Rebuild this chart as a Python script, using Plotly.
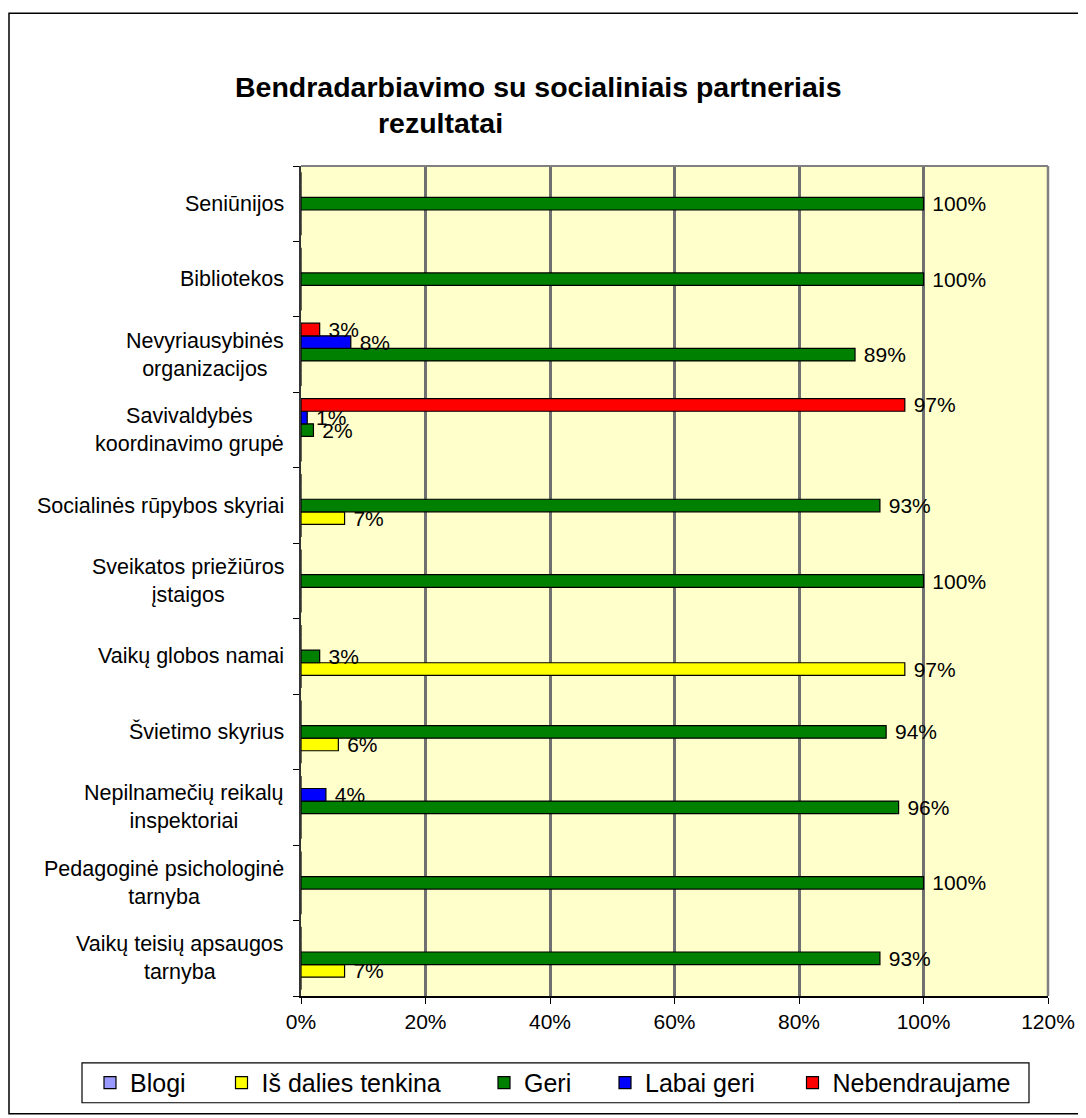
import plotly.graph_objects as go

# Categories (bottom to top)
categories = [
    "Vaikų teisių apsaugos<br>tarnyba",
    "Pedagoginė psichologinė<br>tarnyba",
    "Nepilnamečių reikalų<br>inspektoriai",
    "Švietimo skyrius",
    "Vaikų globos namai",
    "Sveikatos priežiūros<br>įstaigos",
    "Socialinės rūpybos skyriai",
    "Savivaldybės<br>koordinavimo grupė",
    "Nevyriausybinės<br>organizacijos",
    "Bibliotekos",
    "Seniūnijos",
]

series_names = ["Blogi", "Iš dalies tenkina", "Geri", "Labai geri", "Nebendraujame"]
blogi = [0, 0, 0, 0, 0, 0, 0, 0, 0, 0, 0]
is_dalies = [7, 0, 0, 6, 97, 0, 7, 0, 0, 0, 0]
geri = [93, 100, 96, 94, 3, 100, 93, 2, 89, 100, 100]
labai_geri = [0, 0, 4, 0, 0, 0, 0, 1, 8, 0, 0]
nebendraujame = [0, 0, 0, 0, 0, 0, 0, 97, 3, 0, 0]
series_values = [blogi, is_dalies, geri, labai_geri, nebendraujame]
colors = ["#9999FF", "#FFFF00", "#008000", "#0000FF", "#FF0000"]

x_ticks = [0, 20, 40, 60, 80, 100, 120]

FONT = "Liberation Sans, Arial, sans-serif"

# page offset of the plot div (body margin)
OFF = 8
W, H = 1078, 1110
L, R, T, B = 293, 38, 158, 120
pw, ph = W - L - R, H - T - B

def fx(page_x):
    return (page_x - OFF - L) / pw

def fy(page_y):
    return (H - B - (page_y - OFF)) / ph

# legend marker centres in page pixels (layout only)
legend_centres = [110, 241.5, 504, 625, 812.5]
legend_names = ["legend", "legend2", "legend3", "legend4", "legend5"]

fig = go.Figure()
for name, vals, col, lg in zip(series_names, series_values, colors, legend_names):
    fig.add_trace(go.Bar(
        y=categories, x=vals, name=name, orientation="h",
        marker=dict(color=col, line=dict(color="black", width=1.2)),
        text=[f" {v}%" if v > 0 else "" for v in vals],
        textposition="outside", constraintext="none", cliponaxis=False,
        textfont=dict(family=FONT, size=21, color="black"),
        hoverinfo="x+name", legend=lg,
    ))

annotations = []
for c in categories:
    annotations.append(dict(
        text=c, xref="paper", yref="y", x=0, y=c, xshift=-15,
        xanchor="right", yanchor="middle", align="center", showarrow=False,
        font=dict(family=FONT, size=21.5, color="black"),
    ))
annotations.append(dict(
    text="<b>Bendradarbiavimo su socialiniais partneriais</b>",
    xref="paper", yref="paper", x=fx(538), y=fy(87), xanchor="center", yanchor="middle",
    showarrow=False, font=dict(family=FONT, size=28.5, color="black"),
))
annotations.append(dict(
    text="<b>rezultatai</b>",
    xref="paper", yref="paper", x=fx(440), y=fy(123), xanchor="center", yanchor="middle",
    showarrow=False, font=dict(family=FONT, size=28.5, color="black"),
))

shapes = [
    dict(type="rect", xref="paper", yref="paper", x0=fx(9), x1=fx(1084), y0=fy(1116), y1=fy(13),
         line=dict(color="black", width=1.5), fillcolor="rgba(0,0,0,0)", layer="below"),
    dict(type="rect", xref="paper", yref="paper", x0=fx(82), x1=fx(1029), y0=fy(1105), y1=fy(1065),
         line=dict(color="black", width=1.2), fillcolor="white", layer="below"),
    dict(type="line", xref="paper", yref="paper", x0=0, x1=1, y0=1, y1=1,
         line=dict(color="#808080", width=2)),
    dict(type="line", xref="paper", yref="paper", x0=1, x1=1, y0=0, y1=1,
         line=dict(color="#808080", width=2.5)),
]

legends = {}
for lg, cx in zip(legend_names, legend_centres):
    legends[lg] = dict(
        orientation="h", x=fx(cx - 20), y=fy(1085), xanchor="left", yanchor="middle",
        bgcolor="rgba(0,0,0,0)", borderwidth=0,
        font=dict(family=FONT, size=25, color="black"),
    )

fig.update_layout(
    width=W, height=H,
    margin=dict(l=L, r=R, t=T, b=B),
    paper_bgcolor="white", plot_bgcolor="#FFFFCC",
    barmode="group", bargap=0.167, bargroupgap=0,
    font=dict(family=FONT, size=21, color="black"),
    showlegend=True,
    annotations=annotations,
    shapes=shapes,
    xaxis=dict(
        range=[0, 120], tickvals=x_ticks, ticktext=[f"{t}%" for t in x_ticks],
        ticks="outside", ticklen=6, tickcolor="black",
        showline=True, linecolor="black", linewidth=1.5,
        showgrid=True, gridcolor="#707070", gridwidth=2.5, zeroline=False,
        tickfont=dict(family=FONT, size=21, color="black"),
    ),
    yaxis=dict(
        type="category", categoryorder="array", categoryarray=categories,
        showticklabels=False, ticks="outside", tickson="boundaries", ticklen=6,
        tickcolor="black", showline=True, linecolor="#333333", linewidth=2,
        showgrid=False, zeroline=False,
    ),
    **legends,
)

fig.write_html("out.html")
